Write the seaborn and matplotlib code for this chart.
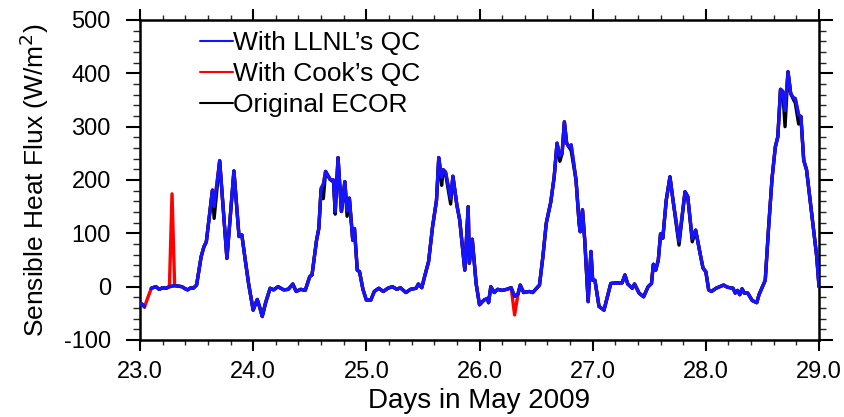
import numpy as np
import pandas as pd
import matplotlib
matplotlib.use("Agg")
import matplotlib.pyplot as plt
import seaborn as sns
from matplotlib.ticker import MultipleLocator, FormatStrFormatter
from matplotlib.lines import Line2D

nan = np.nan

# Day of May 2009 (fractional)
days = [23.00, 23.02, 23.04, 23.07, 23.10, 23.14, 23.17, 23.20, 23.23, 23.26,
        23.283, 23.306, 23.34, 23.37, 23.40, 23.42, 23.45, 23.47, 23.50, 23.54,
        23.565, 23.586, 23.64, 23.655, 23.704, 23.768, 23.83, 23.875, 23.90, 23.93,
        23.96, 24.00, 24.036, 24.06, 24.08, 24.11, 24.15, 24.18, 24.22, 24.27,
        24.31, 24.35, 24.38, 24.42, 24.46, 24.50, 24.52, 24.56, 24.58, 24.60,
        24.62, 24.64, 24.68, 24.71, 24.725, 24.75, 24.78, 24.81, 24.83, 24.85,
        24.88, 24.895, 24.92, 24.94, 24.97, 25.00, 25.04, 25.07, 25.11, 25.15,
        25.19, 25.23, 25.27, 25.30, 25.35, 25.39, 25.44, 25.46, 25.49, 25.515,
        25.55, 25.585, 25.62, 25.64, 25.665, 25.68, 25.70, 25.745, 25.765, 25.80,
        25.825, 25.87, 25.90, 25.91, 25.936, 25.97, 26.00, 26.04, 26.07, 26.08,
        26.10, 26.13, 26.16, 26.20, 26.24, 26.28, 26.31, 26.34, 26.36, 26.39,
        26.44, 26.47, 26.53, 26.56, 26.59, 26.63, 26.66, 26.685, 26.71, 26.73,
        26.75, 26.77, 26.79, 26.81, 26.853, 26.88, 26.89, 26.91, 26.93, 26.96,
        26.985, 27.00, 27.02, 27.056, 27.10, 27.13, 27.16, 27.20, 27.26, 27.285,
        27.31, 27.35, 27.37, 27.41, 27.45, 27.49, 27.52, 27.536, 27.557, 27.58,
        27.60, 27.62, 27.65, 27.683, 27.71, 27.763, 27.816, 27.84, 27.88, 27.91,
        27.955, 27.975, 28.00, 28.025, 28.05, 28.09, 28.157, 28.19, 28.24, 28.26,
        28.28, 28.30, 28.32, 28.34, 28.37, 28.41, 28.45, 28.47, 28.50, 28.525,
        28.555, 28.585, 28.614, 28.636, 28.66, 28.68, 28.70, 28.726, 28.75, 28.776,
        28.79, 28.82, 28.84, 28.865, 28.89, 28.935, 28.98, 29.00]

# Sensible heat flux with LLNL's QC (W/m^2)
llnl = [-32, -33, -38, nan, -3, 0, -5, -2, -3, 0,
        1, 2, 1, 0, -4, -6, -2, -3, 3, 56,
        75, 84, 181, 150, 236, 53, 217, 94, 97, 50,
        5, -44, -24, -40, -56, -30, -3, -6, 0, -6,
        -5, 5, -9, -5, -7, 19, 22, 87, 109, 184,
        192, 216, 201, 200, 141, 242, 141, 197, 142, 166,
        87, 109, 31, 28, -5, -25, -25, -9, -3, -9,
        -3, 0, -5, -2, -11, -5, -3, 5, -2, 19,
        47, 112, 162, 242, 205, 219, 215, 165, 207, 153,
        125, 31, 150, 44, 89, 6, -34, -25, -22, -30,
        0, -11, -5, -7, -5, -2, -18, -14, 3, -11,
        -9, -11, 3, 56, 119, 159, 206, 269, 245, 250,
        309, 269, 262, 266, 200, 119, 103, 144, 87, -28,
        66, 12, 12, -37, -44, -19, 6, 7, 7, 22,
        5, -3, 5, -12, -19, 0, 6, 42, 31, 50,
        99, 91, 162, 206, 162, 85, 178, 169, 90, 106,
        56, 35, 28, -6, -9, -3, 3, -1, -3, -12,
        -7, -15, -4, -12, -12, -26, -30, -15, 0, 12,
        112, 203, 262, 281, 370, 366, 330, 403, 362, 353,
        353, 322, 319, 237, 219, 137, 56, 0]

# With Cook's QC
cook = [-32, -33, -38, -20, -3, 0, -5, -2, -3, 0,
        174, 2, 1, 0, -4, -6, -2, -3, 3, 56,
        75, 84, 181, 150, 236, 53, 217, 94, 97, 50,
        5, -44, -24, -40, -56, -30, -3, -6, 0, -6,
        -5, 5, -9, -5, -7, 19, 22, 87, 109, 184,
        192, 216, 201, 200, 141, 242, 141, 197, 142, 166,
        87, 109, 31, 28, -5, -25, -25, -9, -3, -9,
        -3, 0, -5, -2, -11, -5, -3, 5, -2, 19,
        47, 112, 162, 242, 205, 219, 215, 165, 207, 153,
        125, 31, 150, 44, 89, 6, -34, -25, -22, -30,
        0, -11, -5, -7, -5, -2, -53, -14, 3, -11,
        -9, -11, 3, 56, 119, 159, 206, 269, 245, 250,
        309, 269, 262, 266, 200, 119, 103, 144, 87, -28,
        66, 12, 12, -37, -44, -19, 6, 7, 7, 22,
        5, -3, 5, -12, -19, 0, 6, 42, 31, 50,
        99, 91, 162, 206, 162, 85, 178, 169, 90, 106,
        56, 35, 28, -6, -9, -3, 3, -1, -3, -12,
        -7, -15, -4, -12, -12, -26, -30, -15, 0, 12,
        112, 203, 262, 281, 370, 366, 330, 403, 362, 353,
        353, 322, 319, 237, 219, 137, 56, 0]

# Original ECOR
ecor = [-32, -33, -38, nan, -3, 0, -5, -2, -3, 0,
        1, 2, 1, 0, -4, -6, -2, -3, 3, 56,
        75, 84, 181, 128, 236, 53, 217, 94, 97, 50,
        5, -44, -24, -40, -56, -30, -3, -6, 0, -6,
        -5, 5, -9, -5, -7, 19, 22, 87, 109, 180,
        165, 216, 201, 196, 136, 242, 141, 197, 132, 166,
        87, 109, 31, 28, -5, -25, -25, -9, -3, -9,
        -3, 0, -5, -2, -11, -5, -3, 5, -2, 19,
        47, 112, 162, 242, 190, 219, 212, 155, 207, 153,
        125, 31, 150, 44, 89, 6, -34, -25, -22, -30,
        0, -11, -5, -7, -5, -2, -18, -14, 3, -11,
        -9, -11, 3, 56, 119, 159, 206, 269, 235, 250,
        309, 269, 262, 255, 200, 119, 103, 144, 87, -28,
        66, 12, 12, -37, -44, -19, 6, 7, 7, 22,
        5, -3, 5, -12, -19, 0, 6, 42, 31, 50,
        99, 91, 162, 206, 162, 78, 178, 169, 84, 106,
        56, 35, 28, -6, -9, -3, 3, -1, -3, -12,
        -7, -15, -4, -12, -12, -26, -30, -15, 0, 12,
        112, 203, 262, 281, 370, 366, 300, 403, 362, 350,
        345, 305, 319, 237, 219, 137, 56, 0]

series_names = ["With LLNL\u2019s QC", "With Cook\u2019s QC", "Original ECOR"]
series_colors = ["#1414ff", "#ff0000", "#000000"]

df = pd.DataFrame({"day": days, "llnl": llnl, "cook": cook, "ecor": ecor})

sns.set_theme(style="white")
plt.rcParams["font.family"] = ["Liberation Sans", "DejaVu Sans"]
plt.rcParams["axes.unicode_minus"] = False

fig = plt.figure(figsize=(8.44, 4.17), dpi=100)
ax = fig.add_axes([140 / 844, 1 - 340 / 417, (819 - 140) / 844, (340 - 20) / 417])


def draw(col, color, label, z):
    sub = df[["day", col]].copy()
    seg = sub[col].isna().cumsum()
    sub = sub.assign(seg=seg).dropna()
    first = True
    for _, part in sub.groupby("seg"):
        sns.lineplot(data=part, x="day", y=col, ax=ax, color=color, lw=2.4,
                     estimator=None, sort=False, label=label if first else None,
                     zorder=z, legend=False)
        first = False


draw("cook", series_colors[1], series_names[1], 2)
draw("ecor", series_colors[2], series_names[2], 3)
draw("llnl", series_colors[0], series_names[0], 4)

ax.set_xlim(23, 29)
ax.set_ylim(-100, 500)
ax.xaxis.set_major_locator(MultipleLocator(1))
ax.xaxis.set_minor_locator(MultipleLocator(0.2))
ax.yaxis.set_major_locator(MultipleLocator(100))
ax.yaxis.set_minor_locator(MultipleLocator(20))
ax.xaxis.set_major_formatter(FormatStrFormatter("%.1f"))

for s in ax.spines.values():
    s.set_visible(True)
    s.set_color("black")
    s.set_linewidth(1.8)

ax.tick_params(axis="x", which="major", direction="out", length=8, width=1.5,
               top=True, bottom=True, labelsize=17, pad=7, colors="black")
ax.tick_params(axis="x", which="minor", direction="out", length=3.6, width=1.0,
               top=True, bottom=True)
ax.tick_params(axis="y", which="major", direction="out", length=10, width=1.5,
               left=True, right=True, labelsize=17, pad=11, colors="black")
ax.tick_params(axis="y", which="minor", direction="out", length=5, width=1.0,
               left=True, right=True)

ax.set_xlabel("Days in May 2009", fontsize=20, labelpad=3.5, color="black")
ax.set_ylabel("Sensible Heat Flux (W/m$^2$)", fontsize=19, labelpad=9, color="black")
ax.grid(False)

handles = [Line2D([], [], color=c, lw=1.5) for c in series_colors]
leg = ax.legend(handles, series_names, loc="upper left", bbox_to_anchor=(0.088, 0.965),
                frameon=False, fontsize=19, handlelength=1.25, handletextpad=0.0,
                labelspacing=0.26, borderaxespad=0, borderpad=0)
for t in leg.get_texts():
    t.set_color("black")

fig.savefig("out.png", dpi=100)
